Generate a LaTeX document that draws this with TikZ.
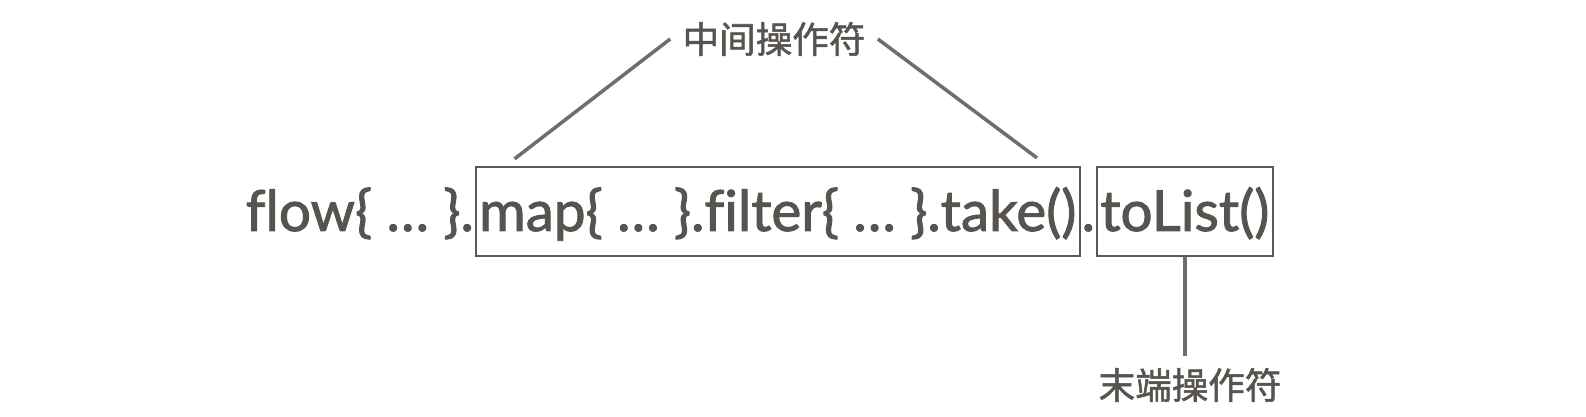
\documentclass[tikz,border=0pt]{standalone}
\usepackage{fontspec}
\setmainfont{Lato}[Ligatures=NoCommon, FakeBold=1.6]
\newfontfamily\cjk{Noto Sans CJK SC}[FakeBold=1.4]
\usetikzlibrary{positioning}
\definecolor{ink}{HTML}{57534F}
\definecolor{pencil}{HTML}{5C5856}
\definecolor{lead}{HTML}{6E6E6E}

\begin{document}
\begin{tikzpicture}[
  code/.style={inner sep=0pt, anchor=base west, text=ink,
    font=\fontsize{16.1}{19}\selectfont, text height=0.64cm, text depth=0.25cm},
  opbox/.style={code, draw=pencil, line width=0.65pt, inner xsep=1pt},
  tag/.style={text=ink, font=\cjk\fontsize{10.4}{12}\selectfont},
  leader/.style={draw=lead, line width=1pt}
]

\useasboundingbox (0,0) rectangle (15.86,4.16);

% Code line
\node[code] (flow) at (2.45,1.85) {flow\{ … \}.};
\node[opbox] (mid) at (flow.base east) {map\{ … \}.filter\{ … \}.take()};
\node[code] (dot) at (mid.base east) {.};
\node[opbox] (term) at (dot.base east) {toList()};

% Labels
\node[tag] (midtag) at (7.74,3.77) {中间操作符};
\node[tag] (termtag) at (11.90,0.31) {末端操作符};

% Leaders
\coordinate (midl) at ([xshift=0.4cm,yshift=0.07cm]mid.north west);
\coordinate (midr) at ([xshift=-0.44cm,yshift=0.08cm]mid.north east);
\draw[leader] (midtag.west) -- (midl);
\draw[leader] (midtag.east) -- (midr);
\draw[leader] (term.south) -- (term.south |- termtag.north);

\end{tikzpicture}
\end{document}
